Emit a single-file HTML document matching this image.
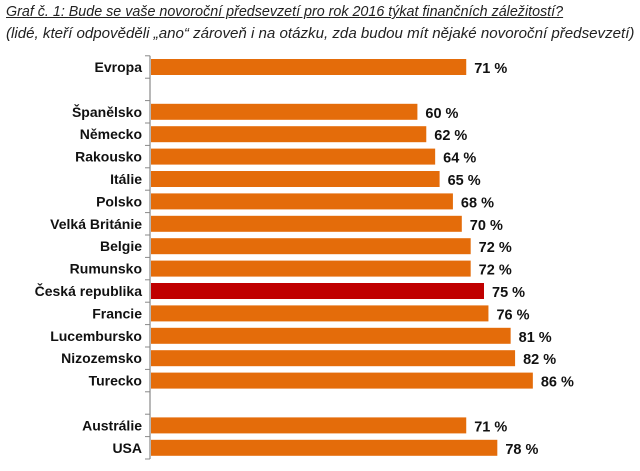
<!DOCTYPE html>
<html><head><meta charset="utf-8"><style>
body{margin:0;background:#fff;width:640px;height:471px;overflow:hidden;font-family:"Liberation Sans",sans-serif}
.t{position:absolute;left:6px;font-style:italic;font-size:14.3px;color:#222;white-space:nowrap}
</style></head><body>
<div class="t" style="top:4px;text-decoration:underline">Graf č. 1: Bude se vaše novoroční předsevzetí pro rok 2016 týkat finančních záležitostí?</div>
<div class="t" style="top:25px;font-size:15.1px">(lidé, kteří odpověděli „ano“ zároveň i na otázku, zda budou mít nějaké novoroční předsevzetí)</div>
<svg id="c" width="640" height="471" style="position:absolute;left:0;top:0"></svg>
<script>
const categories=["Evropa","","Španělsko","Německo","Rakousko","Itálie","Polsko","Velká Británie","Belgie","Rumunsko","Česká republika","Francie","Lucembursko","Nizozemsko","Turecko","","Austrálie","USA"];
const values=[71,null,60,62,64,65,68,70,72,72,75,76,81,82,86,null,71,78];
const highlight=["Česká republika"];
const svg=document.getElementById('c');const NS="http://www.w3.org/2000/svg";
const x0=151,pxPer=4.44,y0=67,step=22.4,bh=16;
const x=v=>x0+v*pxPer, y=i=>y0+i*step;
function el(t,a){const e=document.createElementNS(NS,t);for(const k in a)e.setAttribute(k,a[k]);svg.appendChild(e);return e;}
const ax=el('line',{x1:150,x2:150,y1:y(0)-step/2,y2:y(categories.length-1)+step/2,stroke:'#888','stroke-width':1.2});


for(let i=0;i<=categories.length;i++){const tk=el('line',{x1:145,x2:150,y1:y(i)-step/2,y2:y(i)-step/2,stroke:'#888','stroke-width':1});

}
categories.forEach((c,i)=>{const v=values[i];if(v==null)return;
const r=el('rect',{x:x0,y:y(i)-bh/2,width:x(v)-x0,height:bh,fill:highlight.includes(c)?'#c00000':'#e46c0a'});


const l=el('text',{x:142,y:y(i)+5,'text-anchor':'end','font-size':14,'font-weight':'bold',fill:'#111'});l.textContent=c;


const t=el('text',{x:x(v)+8,y:y(i)+6,'font-size':14.5,'font-weight':'bold',fill:'#111'});t.textContent=v+' %';

});
</script>
</body></html>
